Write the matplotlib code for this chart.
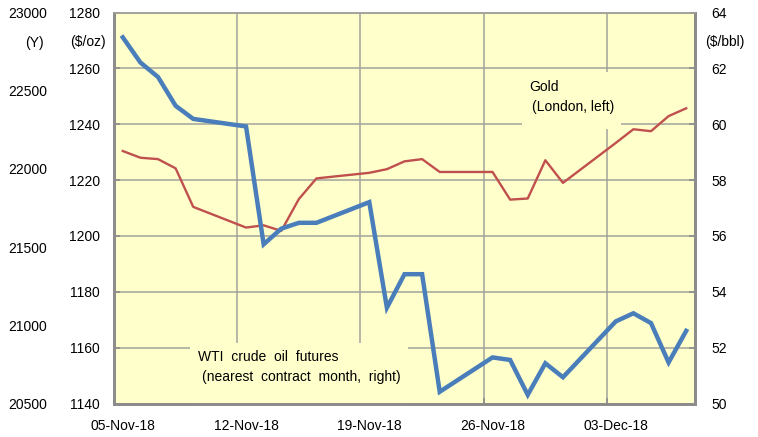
import datetime as dt
import matplotlib
matplotlib.use('Agg')
import matplotlib.pyplot as plt
from matplotlib.patches import Rectangle

plt.rcParams['font.family'] = ['Liberation Sans', 'DejaVu Sans']
plt.rcParams['font.size'] = 10

# trading days (London gold fix / WTI settlement)
days = ['2018-11-05', '2018-11-06', '2018-11-07', '2018-11-08', '2018-11-09',
        '2018-11-12', '2018-11-13', '2018-11-14', '2018-11-15', '2018-11-16',
        '2018-11-19', '2018-11-20', '2018-11-21', '2018-11-22', '2018-11-23',
        '2018-11-26', '2018-11-27', '2018-11-28', '2018-11-29', '2018-11-30',
        '2018-12-03', '2018-12-04', '2018-12-05', '2018-12-06', '2018-12-07']

# gold, London ($/oz, left axis)
gold = [1230.4, 1228.0, 1227.5, 1224.2, 1210.4,
        1203.0, 1203.8, 1201.8, 1213.2, 1220.6,
        1222.6, 1223.9, 1226.7, 1227.5, 1222.9,
        1222.9, 1213.0, 1213.4, 1227.1, 1219.0,
        1233.3, 1238.2, 1237.5, 1242.9, 1245.7]

# WTI crude oil futures, nearest month ($/bbl, right axis)
wti = [63.11, 62.21, 61.69, 60.66, 60.19,
       59.92, 55.70, 56.26, 56.47, 56.47,
       57.21, 53.43, 54.63, 54.63, 50.42,
       51.65, 51.56, 50.31, 51.44, 50.94,
       52.94, 53.23, 52.88, 51.47, 52.60]

gold_ticks = [1140, 1160, 1180, 1200, 1220, 1240, 1260, 1280]
wti_ticks = [50, 52, 54, 56, 58, 60, 62, 64]
yen_ticks = [20500, 21000, 21500, 22000, 22500, 23000]
week_starts = ['2018-11-05', '2018-11-12', '2018-11-19', '2018-11-26', '2018-12-03']
week_labels = ['05-Nov-18', '12-Nov-18', '19-Nov-18', '26-Nov-18', '03-Dec-18']
x_end = '2018-12-08'

to_date = lambda s: dt.datetime.strptime(s, '%Y-%m-%d')
half_day = dt.timedelta(hours=12)
x = [to_date(d) + half_day for d in days]
weeks = [to_date(d) for d in week_starts]

W, H = 758, 437
fig = plt.figure(figsize=(W / 100, H / 100), dpi=100)
ax = fig.add_axes([114 / W, 1 - 403.5 / H, (695 - 114) / W, (403.5 - 12.5) / H])
ax.set_facecolor('#ffffcc')
ax2 = ax.twinx()
ax3 = ax.twinx()

frame = '#8c8c8c'
gridc = '#a3a39b'

# gold on left
ax.plot(x, gold, color='#c0504d', lw=1.7, zorder=2)
ax.set_ylim(1140, 1280)
ax.set_yticks(gold_ticks)
ax.set_xlim(weeks[0], to_date(x_end))
ax.set_xticks(weeks)
ax.set_xticklabels([''] * len(weeks))
ax.set_xticks([w + half_day for w in weeks], minor=True)
ax.set_xticklabels(week_labels, minor=True)
ax.tick_params(axis='x', which='major', direction='in', length=4, color=frame, width=1.2)
ax.tick_params(axis='x', which='minor', length=0, pad=11)
ax.tick_params(axis='y', direction='in', length=4, color=frame, width=1.2, pad=10)
ax.set_axisbelow(True)
ax.grid(True, which='major', color=gridc, lw=1.1)

# oil on right
ax2.plot(x, wti, color='#4a7ebb', lw=3.2, solid_joinstyle='miter', zorder=3)
ax2.set_ylim(50, 64)
ax2.set_yticks(wti_ticks)
ax2.tick_params(axis='y', direction='in', length=4, color=frame, width=1.2, pad=12)

# yen scale, labels only
ax3.set_ylim(20500, 23000)
ax3.set_yticks(yen_ticks)
ax3.yaxis.tick_left()
ax3.tick_params(axis='y', length=0, pad=48)
for s in ax3.spines.values():
    s.set_visible(False)

for a in (ax, ax2):
    for side in ('left', 'right', 'bottom'):
        a.spines[side].set_color(frame)
        a.spines[side].set_linewidth(2)
    a.spines['top'].set_color(gridc)
    a.spines['top'].set_linewidth(1.1)

# label boxes covering the grid
ax.add_patch(Rectangle(((522 - 114) / 581, (403.5 - 129) / 391), 99 / 581, 57 / 391,
                       transform=ax.transAxes, facecolor='#ffffcc', edgecolor='none', zorder=1))
ax.add_patch(Rectangle(((190 - 114) / 581, 0.0), 218 / 581, (403.5 - 343) / 391,
                       transform=ax.transAxes, facecolor='#ffffcc', edgecolor='none', zorder=1))

def px(xp, yp):
    return ((xp - 114) / 581, (403.5 - yp) / 391)

ax.text(*px(529, 87), 'Gold', transform=ax.transAxes, va='center', ha='left')
ax.text(*px(532, 107), '(London, left)', transform=ax.transAxes, va='center', ha='left')
ax.text(*px(198, 357), 'WTI  crude  oil  futures', transform=ax.transAxes, va='center', ha='left')
ax.text(*px(202, 377), '(nearest  contract  month,  right)', transform=ax.transAxes,
        va='center', ha='left')

# unit labels
fig.text(44 / W, 1 - 43 / H, '(Y)', ha='right', va='center')
fig.text(70 / W, 1 - 42 / H, '($/oz)', ha='left', va='center')
fig.text(705 / W, 1 - 42 / H, '($/bbl)', ha='left', va='center')

fig.savefig('out.png', dpi=100)
